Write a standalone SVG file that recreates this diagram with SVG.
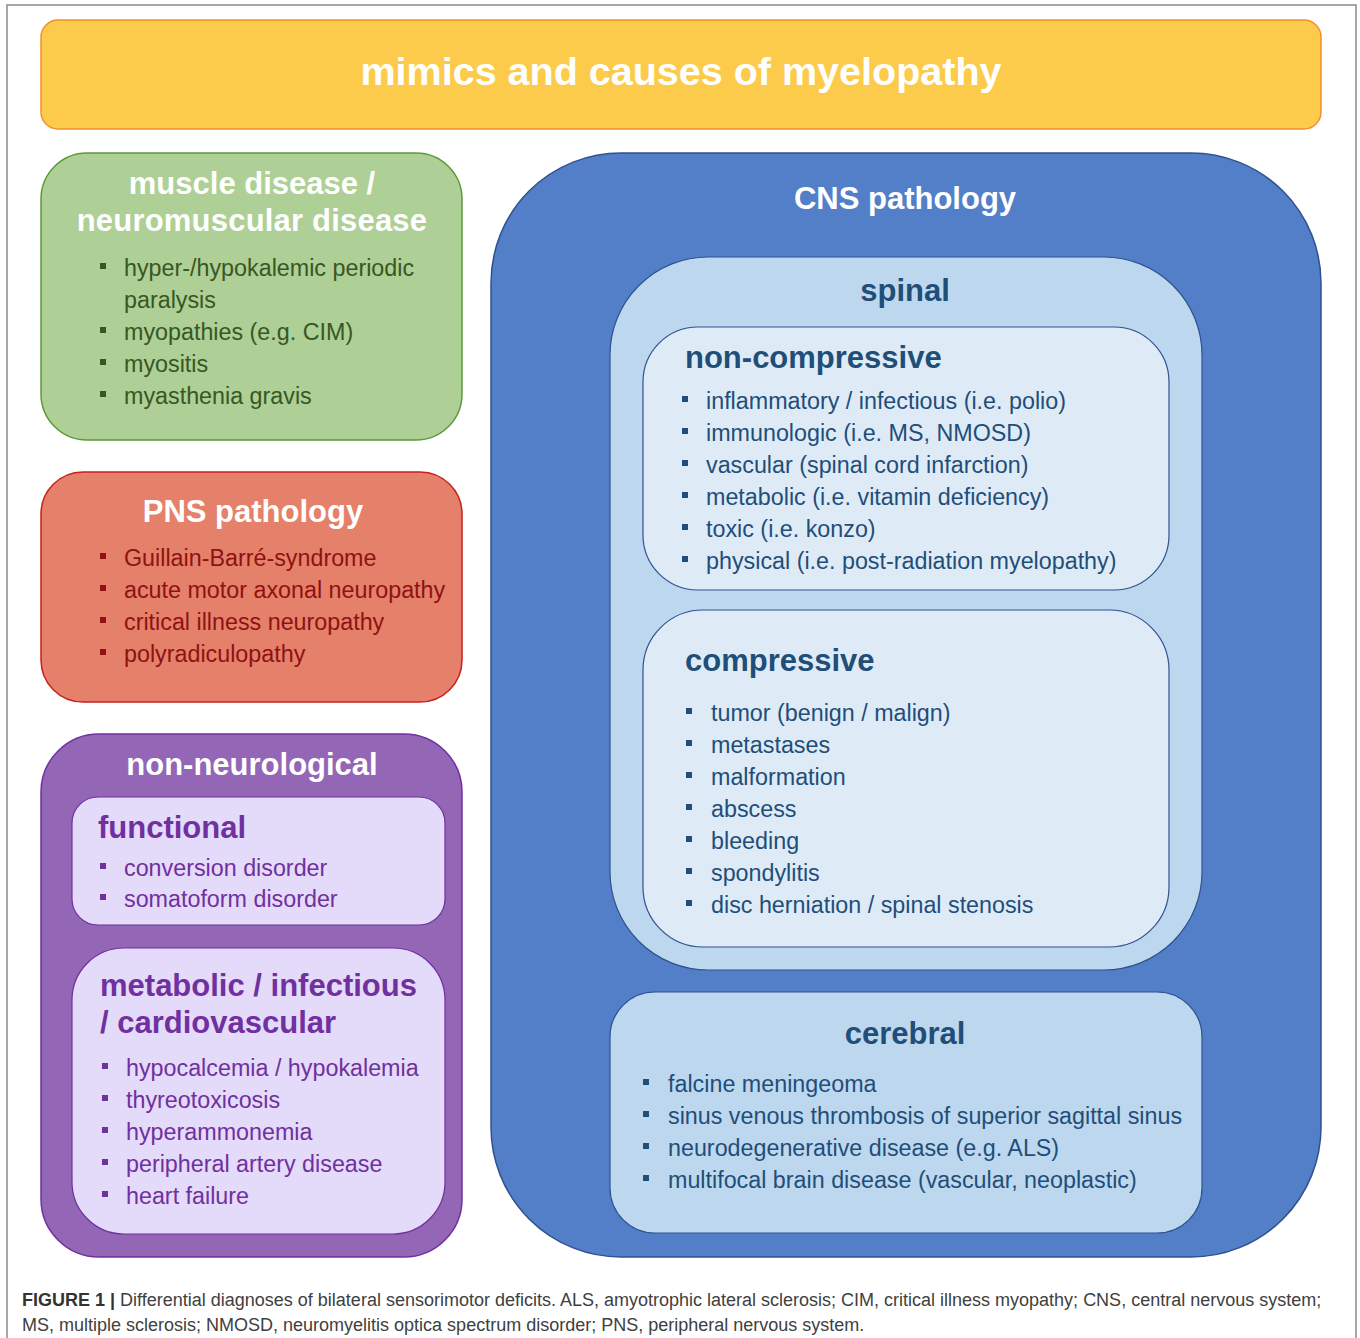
<svg xmlns="http://www.w3.org/2000/svg" width="1360" height="1338" viewBox="0 0 1360 1338">
<style>
text{font-family:"Liberation Sans",Arial,Helvetica,sans-serif}
.t{font-weight:bold;font-size:31px}
.w{fill:#ffffff}
.i{font-size:23.3px}
.g{fill:#385723}
.r{fill:#8E1212}
.p{fill:#7030A0}
.b{fill:#1F4E79}
.c{text-anchor:middle}
</style>
<rect x="7" y="5" width="1349" height="1345" fill="#ffffff" stroke="#8a8a8a" stroke-width="1.5"/>
<g id="title">
<rect x="41" y="20" width="1280" height="109" rx="17" fill="#FDCB4B" stroke="#F4902C" stroke-width="1.5"/>
<text x="681" y="85" class="w c" font-weight="bold" font-size="39.5">mimics and causes of myelopathy</text>
</g>
<g id="muscle">
<rect x="41" y="153" width="421" height="287" rx="46" fill="#AECF95" stroke="#5B9B3A" stroke-width="1.5"/>
<text x="252" y="194" class="t w c">muscle disease /</text>
<text x="252" y="231" class="t w c" letter-spacing="0.2">neuromuscular disease</text>
<g class="g">
<rect x="100" y="263" width="6" height="6"/><text x="124" y="276" class="i">hyper-/hypokalemic periodic</text>
<text x="124" y="308" class="i">paralysis</text>
<rect x="100" y="327" width="6" height="6"/><text x="124" y="340" class="i">myopathies (e.g. CIM)</text>
<rect x="100" y="359" width="6" height="6"/><text x="124" y="372" class="i">myositis</text>
<rect x="100" y="391" width="6" height="6"/><text x="124" y="404" class="i">myasthenia gravis</text>
</g>
</g>
<g id="pns">
<rect x="41" y="472" width="421" height="230" rx="42" fill="#E5806A" stroke="#C8201E" stroke-width="1.5"/>
<text x="253" y="522" class="t w c">PNS pathology</text>
<g class="r">
<rect x="100" y="553" width="6" height="6"/><text x="124" y="566" class="i">Guillain-Barré-syndrome</text>
<rect x="100" y="585" width="6" height="6"/><text x="124" y="598" class="i">acute motor axonal neuropathy</text>
<rect x="100" y="617" width="6" height="6"/><text x="124" y="630" class="i">critical illness neuropathy</text>
<rect x="100" y="649" width="6" height="6"/><text x="124" y="662" class="i">polyradiculopathy</text>
</g>
</g>
<g id="nonneuro">
<rect x="41" y="734" width="421" height="523" rx="58" fill="#9366B6" stroke="#7030A0" stroke-width="1.5"/>
<text x="252" y="775" class="t w c">non-neurological</text>
</g>
<g id="functional">
<rect x="72" y="797" width="373" height="128" rx="26" fill="#E4DAF9" stroke="#7030A0" stroke-width="1.2"/>
<text x="98" y="838" class="t p">functional</text>
<g class="p">
<rect x="100" y="863" width="6" height="6"/><text x="124" y="876" class="i">conversion disorder</text>
<rect x="100" y="894" width="6" height="6"/><text x="124" y="907" class="i">somatoform disorder</text>
</g>
</g>
<g id="metabolic">
<rect x="72" y="948" width="373" height="286" rx="52" fill="#E4DAF9" stroke="#7030A0" stroke-width="1.2"/>
<text x="100" y="996" class="t p">metabolic / infectious</text>
<text x="100" y="1033" class="t p">/ cardiovascular</text>
<g class="p">
<rect x="102" y="1063" width="6" height="6"/><text x="126" y="1076" class="i">hypocalcemia / hypokalemia</text>
<rect x="102" y="1095" width="6" height="6"/><text x="126" y="1108" class="i">thyreotoxicosis</text>
<rect x="102" y="1127" width="6" height="6"/><text x="126" y="1140" class="i">hyperammonemia</text>
<rect x="102" y="1159" width="6" height="6"/><text x="126" y="1172" class="i">peripheral artery disease</text>
<rect x="102" y="1191" width="6" height="6"/><text x="126" y="1204" class="i">heart failure</text>
</g>
</g>
<g id="cns">
<rect x="491" y="153" width="830" height="1104" rx="130" fill="#527FC7" stroke="#2F528F" stroke-width="1.5"/>
<text x="905" y="209" class="t w c">CNS pathology</text>
</g>
<g id="spinal">
<rect x="610" y="257" width="592" height="713" rx="98" fill="#BDD7EE" stroke="#2F528F" stroke-width="1.2"/>
<text x="905" y="301" class="t b c">spinal</text>
</g>
<g id="noncompressive">
<rect x="643" y="327" width="526" height="263" rx="55" fill="#DEEBF7" stroke="#2F528F" stroke-width="1.2"/>
<text x="685" y="368" class="t b">non-compressive</text>
<g class="b">
<rect x="682" y="396" width="6" height="6"/><text x="706" y="409" class="i">inflammatory / infectious (i.e. polio)</text>
<rect x="682" y="428" width="6" height="6"/><text x="706" y="441" class="i">immunologic (i.e. MS, NMOSD)</text>
<rect x="682" y="460" width="6" height="6"/><text x="706" y="473" class="i">vascular (spinal cord infarction)</text>
<rect x="682" y="492" width="6" height="6"/><text x="706" y="505" class="i">metabolic (i.e. vitamin deficiency)</text>
<rect x="682" y="524" width="6" height="6"/><text x="706" y="537" class="i">toxic (i.e. konzo)</text>
<rect x="682" y="556" width="6" height="6"/><text x="706" y="569" class="i">physical (i.e. post-radiation myelopathy)</text>
</g>
</g>
<g id="compressive">
<rect x="643" y="610" width="526" height="337" rx="60" fill="#DEEBF7" stroke="#2F528F" stroke-width="1.2"/>
<text x="685" y="671" class="t b">compressive</text>
<g class="b">
<rect x="686" y="708" width="6" height="6"/><text x="711" y="721" class="i">tumor (benign / malign)</text>
<rect x="686" y="740" width="6" height="6"/><text x="711" y="753" class="i">metastases</text>
<rect x="686" y="772" width="6" height="6"/><text x="711" y="785" class="i">malformation</text>
<rect x="686" y="804" width="6" height="6"/><text x="711" y="817" class="i">abscess</text>
<rect x="686" y="836" width="6" height="6"/><text x="711" y="849" class="i">bleeding</text>
<rect x="686" y="868" width="6" height="6"/><text x="711" y="881" class="i">spondylitis</text>
<rect x="686" y="900" width="6" height="6"/><text x="711" y="913" class="i">disc herniation / spinal stenosis</text>
</g>
</g>
<g id="cerebral">
<rect x="610" y="992" width="592" height="241" rx="45" fill="#BDD7EE" stroke="#2F528F" stroke-width="1.2"/>
<text x="905" y="1044" class="t b c">cerebral</text>
<g class="b">
<rect x="643" y="1079" width="6" height="6"/><text x="668" y="1092" class="i">falcine meningeoma</text>
<rect x="643" y="1111" width="6" height="6"/><text x="668" y="1124" class="i">sinus venous thrombosis of superior sagittal sinus</text>
<rect x="643" y="1143" width="6" height="6"/><text x="668" y="1156" class="i">neurodegenerative disease (e.g. ALS)</text>
<rect x="643" y="1175" width="6" height="6"/><text x="668" y="1188" class="i">multifocal brain disease (vascular, neoplastic)</text>
</g>
</g>
<g id="connectors"></g>
<g id="caption" font-size="18" fill="#404040">
<text x="22" y="1306"><tspan font-weight="bold" fill="#333333">FIGURE 1 |</tspan> Differential diagnoses of bilateral sensorimotor deficits. ALS, amyotrophic lateral sclerosis; CIM, critical illness myopathy; CNS, central nervous system;</text>
<text x="22" y="1331">MS, multiple sclerosis; NMOSD, neuromyelitis optica spectrum disorder; PNS, peripheral nervous system.</text>
</g>
</svg>
